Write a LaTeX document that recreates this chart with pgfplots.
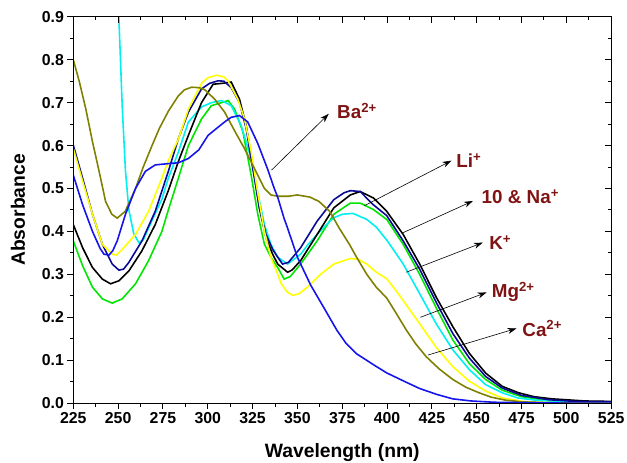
\documentclass[border=0pt]{standalone}
\usepackage{fontspec}
\setmainfont{Liberation Sans}
\usepackage{pgfplots}
\pgfplotsset{compat=1.18}
\usetikzlibrary{arrows.meta,calc}

\definecolor{cOlive}{RGB}{128,128,0}
\definecolor{cCyan}{RGB}{0,240,240}
\definecolor{cYellow}{RGB}{255,255,0}
\definecolor{cBlue}{RGB}{20,20,235}
\definecolor{cNavy}{RGB}{10,10,150}
\definecolor{cGreen}{RGB}{0,230,0}
\definecolor{cLabel}{RGB}{128,20,20}

\newcommand{\lblfont}{\fontsize{19}{22}\selectfont\bfseries}

\pgfplotsset{
  specaxis/.style={
    width=543pt, height=390pt, scale only axis,
    xmin=225, xmax=525, ymin=0, ymax=0.9,
    xtick={225,250,275,300,325,350,375,400,425,450,475,500,525},
    ytick={0,0.1,0.2,0.3,0.4,0.5,0.6,0.7,0.8,0.9},
    minor x tick num=1, minor y tick num=1,
    major tick length=6pt, minor tick length=3.5pt,
    axis line style={line width=1.2pt},
    every tick/.style={line width=1pt, black},
  },
  curve/.style={line width=1.6pt, no marks},
}
\tikzset{
  arr/.style={-{Stealth[length=9pt,width=6pt]}, line width=0.6pt, black},
  lbl/.style={anchor=base west, inner sep=0pt, text=cLabel, font=\lblfont},
}

\begin{document}
\begin{tikzpicture}
\begin{axis}[
  specaxis,
  clip mode=individual,
  tick align=outside, xtick pos=left, ytick pos=left,
  tick label style={font=\fontsize{16}{19}\selectfont\bfseries},
  xticklabel={\bfseries\pgfmathprintnumber[fixed,precision=0,assume math mode=true]{\tick}},
  yticklabel={\bfseries\pgfmathprintnumber[fixed,fixed zerofill,precision=1,assume math mode=true]{\tick}},
  xlabel={Wavelength (nm)},
  ylabel={Absorbance},
  label style={font=\fontsize{19.5}{23}\selectfont\bfseries},
  xlabel style={at={(axis description cs:0.5,-0.128)}, anchor=center},
  ylabel style={at={(axis description cs:-0.103,0.5)}, anchor=center},
]
% corners for the page box
\coordinate (bl) at (rel axis cs:0,0);
\coordinate (tr) at (rel axis cs:1,1);

% green
\addplot[curve, cGreen] coordinates {
(225,0.378) (230.2,0.32) (235.7,0.27) (241.2,0.243) (246.7,0.233) (252.3,0.243)
(259.7,0.278) (267,0.332) (274.4,0.40) (278,0.45) (283.6,0.524) (289.2,0.60)
(296.5,0.662) (302,0.693) (307.6,0.70) (311.3,0.705) (315,0.685) (319.6,0.632)
(324.2,0.531) (327.9,0.44) (331.6,0.37) (335.2,0.34) (339,0.316) (342.6,0.289)
(346,0.295) (351.8,0.324) (361,0.378) (370.3,0.44) (379.5,0.466) (385,0.466)
(392.4,0.451) (399.8,0.428) (409,0.37) (418.2,0.30) (427.4,0.222) (436.7,0.147)
(445.9,0.092) (455,0.055) (464.3,0.03) (475,0.015) (490,0.006) (505,0.003) (525,0.002)
};
% cyan
\addplot[curve, cCyan] coordinates {
(249.5,1.0) (250.4,0.90) (252.3,0.69) (254.1,0.54) (256,0.45) (258.7,0.395)
(261.5,0.374) (264,0.38) (267,0.408) (270.5,0.44) (274.4,0.475) (278,0.524)
(283.6,0.585) (289.2,0.655) (296.5,0.69) (302,0.70) (307.6,0.705) (313.1,0.693)
(318.6,0.647) (324.2,0.57) (327.9,0.49) (331.6,0.416) (335.2,0.37) (339,0.34)
(344.5,0.324) (351.8,0.347) (356,0.37) (361,0.393) (366,0.415) (370.3,0.432)
(375,0.44) (381,0.442) (388.7,0.428) (394,0.41) (399.8,0.38) (405.3,0.347)
(409,0.324) (418.2,0.255) (427.4,0.185) (436.7,0.124) (445.9,0.078) (455,0.043)
(464.3,0.024) (473,0.012) (482.7,0.007) (495,0.004) (510,0.003) (525,0.002)
};
% black
\addplot[curve, black] coordinates {
(225,0.416) (230.2,0.362) (235.7,0.316) (241.2,0.289) (245.8,0.278) (250.4,0.285)
(256,0.308) (263.3,0.355) (270.7,0.416) (278,0.495) (283.6,0.563) (289.2,0.624)
(296.5,0.70) (303,0.743) (308,0.745) (313.1,0.748) (317.7,0.708) (321.4,0.647)
(325.1,0.555) (328.8,0.455) (332.5,0.385) (336.2,0.347) (339,0.324) (344.5,0.305)
(347,0.31) (351.8,0.332) (361,0.393) (370.3,0.455) (379.5,0.485) (385,0.493)
(392.4,0.478) (399.8,0.447) (409,0.393) (418.2,0.324) (427.4,0.247) (436.7,0.178)
(445.9,0.116) (455,0.07) (464.3,0.039) (473.5,0.024) (482,0.015) (492,0.01)
(510.5,0.005) (525,0.004)
};
% navy
\addplot[curve, cNavy] coordinates {
(225,0.601) (230.2,0.524) (235.7,0.44) (241.2,0.37) (246.7,0.324) (250.4,0.31)
(253,0.312) (256,0.328) (263.3,0.378) (270.7,0.447) (278,0.54) (283.6,0.616)
(289.2,0.678) (296.5,0.732) (301,0.745) (305.8,0.751) (309,0.75) (313.1,0.735)
(317.7,0.70) (321.4,0.64) (325.1,0.547) (328.8,0.455) (332.5,0.393) (336.2,0.358)
(339,0.34) (341.7,0.324) (345,0.328) (351.8,0.362) (361,0.424) (370.3,0.474)
(376,0.49) (379.5,0.495) (385,0.493) (392.4,0.462) (399.8,0.437) (409,0.378)
(418.2,0.312) (427.4,0.235) (436.7,0.162) (445.9,0.105) (455,0.062) (464.3,0.035)
(475,0.018) (490,0.008) (505,0.004) (525,0.003)
};
% yellow
\addplot[curve, cYellow] coordinates {
(225,0.593) (230.2,0.517) (235.7,0.44) (241.2,0.37) (246.7,0.347) (249,0.345)
(252.3,0.358) (259.7,0.393) (267,0.447) (274.4,0.524) (278,0.565) (283.6,0.615)
(289.2,0.685) (296.5,0.745) (300,0.758) (305,0.764) (309,0.76) (311.3,0.751)
(316.8,0.708) (320.5,0.662) (324.2,0.586) (327.9,0.49) (331.6,0.40) (335.2,0.34)
(339,0.30) (340.8,0.28) (344,0.26) (347.2,0.251) (351,0.255) (355.5,0.27)
(362.9,0.30) (370.3,0.324) (379.5,0.337) (384,0.335) (388.7,0.324) (394,0.305)
(399.8,0.29) (405,0.262) (409,0.239) (418.2,0.185) (427.4,0.13) (436.7,0.085)
(445.9,0.051) (455,0.028) (464.3,0.012) (477,0.003) (490,0.001) (505,0) (525,0)
};
% olive
\addplot[curve, cOlive] coordinates {
(225,0.80) (228.3,0.75) (232,0.685) (235.7,0.609) (239.4,0.54) (243,0.47)
(246.5,0.44) (249.5,0.431) (254,0.447) (259.7,0.50) (264,0.55) (268.9,0.60)
(273,0.64) (278,0.68) (283.6,0.716) (287,0.73) (291,0.736) (295,0.735)
(298.4,0.73) (303.9,0.708) (309.4,0.678) (314.9,0.635) (320.5,0.593) (326,0.547)
(331.6,0.50) (335.2,0.485) (339,0.482) (345,0.482) (350,0.485) (357,0.48)
(362,0.47) (368,0.447) (373,0.41) (379,0.37) (383,0.34) (388.7,0.30) (394,0.27)
(399.8,0.245) (405,0.21) (410.8,0.17) (416,0.138) (421.9,0.108) (429,0.08)
(436.7,0.055) (444,0.037) (451.4,0.024) (458,0.014) (466,0.007) (475,0.003)
(490,0.001) (505,0) (525,0)
};
% blue
\addplot[curve, cBlue] coordinates {
(225,0.531) (230.2,0.462) (235.7,0.40) (240,0.36) (242.1,0.347) (244.9,0.345)
(247,0.355) (249.5,0.378) (254.1,0.44) (259.7,0.50) (265.2,0.54) (270.7,0.555)
(278,0.558) (283.6,0.56) (289.2,0.57) (295,0.59) (300.2,0.624) (305.8,0.643)
(310,0.657) (313.1,0.666) (317.7,0.67) (322.3,0.655) (327.9,0.605) (333.4,0.545)
(337.1,0.50) (339,0.48) (342.6,0.43) (344.5,0.408) (350,0.34) (357.4,0.275)
(364.8,0.222) (372,0.17) (377,0.14) (383,0.115) (393,0.088) (400,0.07)
(410,0.05) (418.2,0.034) (428,0.02) (436.6,0.01) (447,0.005) (460,0.002)
(480,0.001) (500,0) (525,0)
};

% annotations
\draw[arr] (axis cs:335.6,0.543) -- (axis cs:367.5,0.674);
\node[lbl] at (axis cs:372.1,0.662) {Ba\textsuperscript{2+}};
\draw[arr] (axis cs:387.4,0.46) -- (axis cs:435.9,0.565);
\node[lbl] at (axis cs:438.5,0.549) {Li\textsuperscript{+}};
\draw[arr] (axis cs:408.9,0.397) -- (axis cs:447.9,0.471);
\node[lbl] at (axis cs:452.7,0.464) {10 \& Na\textsuperscript{+}};
\draw[arr] (axis cs:410.7,0.305) -- (axis cs:453.4,0.374);
\node[lbl] at (axis cs:456.9,0.358) {K\textsuperscript{+}};
\draw[arr] (axis cs:418.6,0.20) -- (axis cs:455.5,0.258);
\node[lbl] at (axis cs:458.4,0.245) {Mg\textsuperscript{2+}};
\draw[arr] (axis cs:422.8,0.112) -- (axis cs:472.2,0.174);
\node[lbl] at (axis cs:475.4,0.156) {Ca\textsuperscript{2+}};
\end{axis}

% mirrored ticks on top and right, pointing inwards
\begin{axis}[
  specaxis,
  tick align=inside, xtick pos=right, ytick pos=right,
  xticklabels={}, yticklabels={},
]
\end{axis}

\pgfresetboundingbox
\path[use as bounding box] ($(bl)+(-74pt,-60pt)$) rectangle ($(tr)+(16pt,17pt)$);
\end{tikzpicture}
\end{document}
